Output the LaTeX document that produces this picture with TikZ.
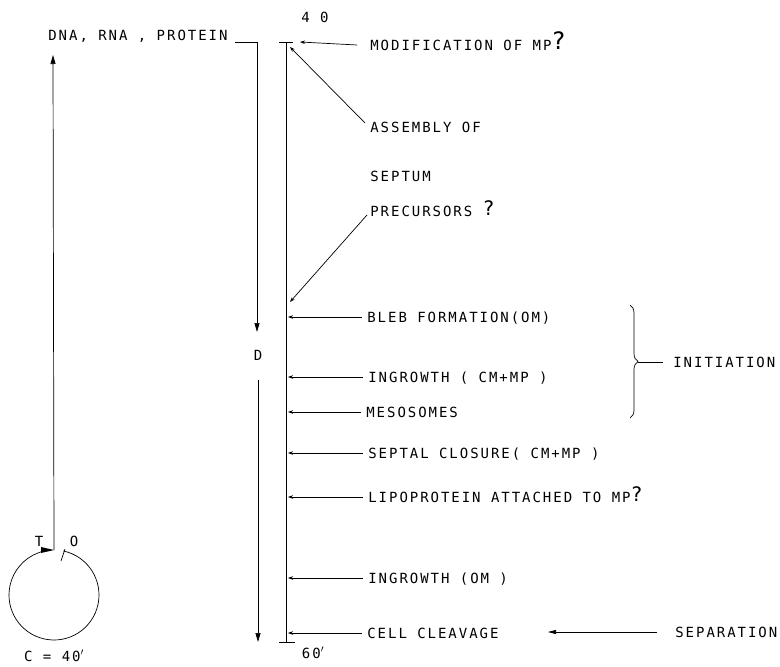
\documentclass[tikz,border=0pt]{standalone}
\usepackage{fontspec}
\setmonofont[LetterSpace=14]{DejaVu Sans Mono}
\usetikzlibrary{arrows.meta,decorations.pathreplacing,calc}
\begin{document}
\begin{tikzpicture}[x=1pt,y=-1pt, line width=0.7pt,
  lbl/.style={font=\ttfamily\fontsize{14}{14}\selectfont, inner sep=0pt, anchor=west, text height=10pt, text depth=0pt},
  clbl/.style={lbl, anchor=center},
  tick/.style={-{Stealth[length=5pt,width=3.5pt]}},
  big/.style={-{Triangle[length=9pt,width=5pt]}}]
\useasboundingbox (0,0) rectangle (780,667);
\fill[white] (0,0) rectangle (780,667);
\newcommand{\bigq}[1]{\raisebox{1pt}{\fontsize{#1}{#1}\selectfont ?}}

% main time line
\coordinate (t0) at (286,42);
\coordinate (t1) at (286,642);
\draw (t0) -- (t1);
\draw ($(t0)+(-7,0)$) -- ($(t0)+(7,0)$);
\draw ($(t1)+(-7,0)$) -- ($(t1)+(9,0)$);
\node[clbl] (n40) at (315,17) {4 0};
\node[clbl] (n60) at (313,653) {60$'$};

% DNA branch
\node[lbl] (dna) at (48,35) {DNA, RNA , PROTEIN};
\coordinate (dnaR) at (235,42);
\coordinate (dTip) at (257,332);
\draw[big] (dnaR) -| (dTip);
\node[clbl] (D) at (258,355) {D};
\coordinate (dRes) at (258,380);
\coordinate (dEnd) at (258,642);
\draw[big] (dRes) -- (dEnd);

% circle
\coordinate (cc) at (54,595);
\coordinate (cTop) at (54,550);
\coordinate (upTip) at (53,55);
\draw (cc) ++(-78:45) arc[start angle=-78, end angle=250, radius=45] coordinate (aEnd);
\fill (cTop) -- ++(-13,-3) -- ++(0,6) -- cycle;
\draw (aEnd) -- ($(cTop)+(-8,0)$);
\draw (61,561) -- (65,549);
\draw[big] (cTop) -- (upTip);
\node[clbl] (T) at (39,541) {T};
\node[clbl] (O) at (74,541) {O};
\node[clbl] (C) at (54,656) {C = 40$'$};

% labels on the right
\node[lbl] (mod) at (370,45) {MODIFICATION OF MP\bigq{24}};
\node[lbl] (asm) at (370,127) {ASSEMBLY OF};
\node[lbl] (sep) at (370,176) {SEPTUM};
\node[lbl] (pre) at (370,211) {PRECURSORS \bigq{20}};
\node[lbl] (bleb) at (367,317) {BLEB FORMATION(OM)};
\node[lbl] (ing1) at (368,377) {INGROWTH ( CM+MP )};
\node[lbl] (meso) at (366,412) {MESOSOMES};
\node[lbl] (sclo) at (368,453) {SEPTAL CLOSURE( CM+MP )};
\node[lbl] (lipo) at (368,497) {LIPOPROTEIN ATTACHED TO MP\bigq{20}};
\node[lbl] (ing2) at (368,578) {INGROWTH (OM )};
\node[lbl] (cell) at (367,633) {CELL CLEAVAGE};

\draw[tick] ([xshift=-13pt]mod.west) -- ($(t0)+(14,0)$);
\draw[tick] ([xshift=-5pt,yshift=4pt]asm.west) -- ($(t0)+(4,5)$);
\draw[tick] ([xshift=-3pt,yshift=-4pt]pre.west) -- (290,302);
\foreach \n in {bleb,ing1,meso,sclo,lipo,ing2,cell}{
  \draw[tick] ([xshift=-5pt]\n.west) -- ($(\n.west -| t0)+(2,0)$);
}

% initiation brace
\coordinate (b0) at (630,305);
\coordinate (b1) at (630,418);
\draw[decorate, decoration={brace, amplitude=8pt}] (b0) -- (b1);
\node[lbl] (init) at (673,362) {INITIATION};
\draw (638,362) -- ([xshift=-10pt]init.west);

% separation
\node[lbl] (separ) at (675,632) {SEPARATION};
\draw[-{Triangle[length=8pt,width=4pt]}] ([xshift=-18pt]separ.west) -- (548,632);
\end{tikzpicture}
\end{document}
